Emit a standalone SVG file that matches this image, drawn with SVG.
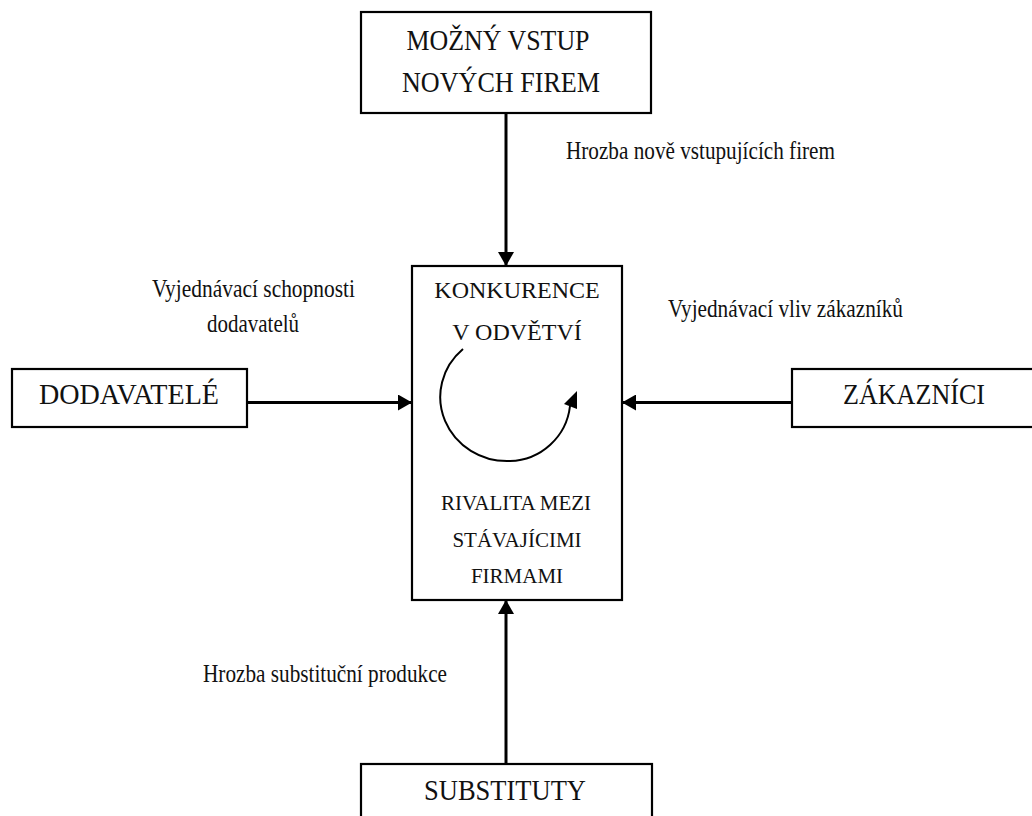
<svg xmlns="http://www.w3.org/2000/svg" width="1032" height="816" viewBox="0 0 1032 816">
  <style>
    .box { fill: #ffffff; stroke: #000000; stroke-width: 2.2; }
    .big { font-family: "Liberation Serif", "Times New Roman", serif; font-size: 30px; fill: #111111; text-anchor: middle; }
    .mid { font-family: "Liberation Serif", "Times New Roman", serif; font-size: 24px; fill: #111111; text-anchor: middle; }
    .sm { font-family: "Liberation Serif", "Times New Roman", serif; font-size: 21px; fill: #111111; text-anchor: middle; }
    .lbl { font-family: "Liberation Serif", "Times New Roman", serif; font-size: 25px; fill: #111111; }
    .conn { fill: none; stroke: #000000; stroke-width: 3; }
    .loop { fill: none; stroke: #000000; stroke-width: 2; }
  </style>
  <defs>
    <marker id="ah" markerUnits="userSpaceOnUse" markerWidth="14" markerHeight="16" refX="14" refY="8" orient="auto">
      <path d="M0,0 L14,8 L0,16 Z" fill="#000000"/>
    </marker>
    <clipPath id="clipDod">
      <rect x="150" y="300" width="220" height="33"/>
    </clipPath>
  </defs>
  <rect width="1032" height="816" fill="#ffffff"/>

  <g id="connectors">
    <line class="conn" x1="506" y1="114" x2="506" y2="266" marker-end="url(#ah)"/>
    <line class="conn" x1="248" y1="402.5" x2="412" y2="402.5" marker-end="url(#ah)"/>
    <line class="conn" x1="792" y1="402.5" x2="622" y2="402.5" marker-end="url(#ah)"/>
    <line class="conn" x1="506" y1="764" x2="506" y2="600" marker-end="url(#ah)"/>
  </g>

  <g id="node-vstup">
    <rect class="box" x="361" y="12" width="290" height="101"/>
    <text class="big" x="498" y="50" textLength="183" lengthAdjust="spacingAndGlyphs">MOŽNÝ VSTUP</text>
    <text class="big" x="501" y="92" textLength="198" lengthAdjust="spacingAndGlyphs">NOVÝCH FIREM</text>
  </g>

  <g id="node-konkurence">
    <rect class="box" x="412" y="266" width="210" height="334"/>
    <text class="mid" x="517" y="298">KONKURENCE</text>
    <text class="mid" x="517" y="340">V ODVĚTVÍ</text>
    <path class="loop" d="M463,349 A67,64 0 0 0 510,461 A62,62 0 0 0 570,406"/>
    <polygon points="577,391 564,404 577,409" fill="#000000"/>
    <text class="sm" x="516" y="510">RIVALITA MEZI</text>
    <text class="sm" x="517" y="547">STÁVAJÍCIMI</text>
    <text class="sm" x="517" y="583">FIRMAMI</text>
  </g>

  <g id="node-dodavatele">
    <rect class="box" x="12" y="369" width="235" height="58"/>
    <text class="big" x="129" y="404" textLength="180" lengthAdjust="spacingAndGlyphs">DODAVATELÉ</text>
  </g>

  <g id="node-zakaznici">
    <rect class="box" x="792" y="369" width="260" height="58"/>
    <text class="big" x="914" y="404" textLength="142" lengthAdjust="spacingAndGlyphs">ZÁKAZNÍCI</text>
  </g>

  <g id="node-substituty">
    <rect class="box" x="361" y="764" width="291" height="70"/>
    <text class="big" x="505" y="800" textLength="162" lengthAdjust="spacingAndGlyphs">SUBSTITUTY</text>
  </g>

  <g id="labels">
    <text class="lbl" x="566" y="159" textLength="269" lengthAdjust="spacingAndGlyphs">Hrozba nově vstupujících firem</text>
    <text class="lbl" x="152" y="297" textLength="203" lengthAdjust="spacingAndGlyphs">Vyjednávací schopnosti</text>
    <text class="lbl" x="207" y="332" textLength="92" lengthAdjust="spacingAndGlyphs" clip-path="url(#clipDod)">dodavatelů</text>
    <text class="lbl" x="668" y="317" textLength="235" lengthAdjust="spacingAndGlyphs">Vyjednávací vliv zákazníků</text>
    <text class="lbl" x="203" y="682" textLength="244" lengthAdjust="spacingAndGlyphs">Hrozba substituční produkce</text>
  </g>
</svg>
